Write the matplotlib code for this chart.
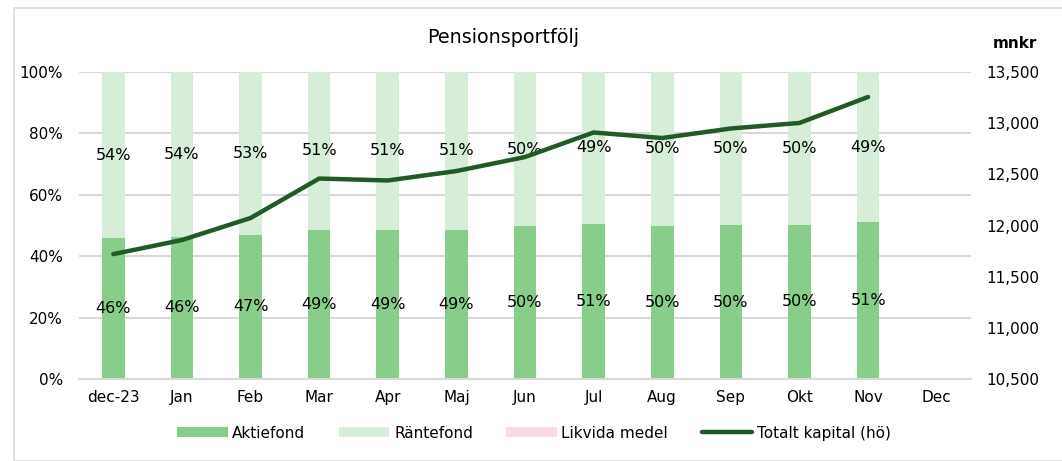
import matplotlib.pyplot as plt
from matplotlib.patches import Rectangle

months = ['dec-23', 'Jan', 'Feb', 'Mar', 'Apr', 'Maj', 'Jun', 'Jul', 'Aug', 'Sep', 'Okt', 'Nov', 'Dec']
aktie = [0.459, 0.463, 0.470, 0.486, 0.486, 0.486, 0.498, 0.506, 0.499, 0.501, 0.503, 0.510]
rante = [0.541, 0.537, 0.530, 0.514, 0.514, 0.514, 0.502, 0.494, 0.501, 0.499, 0.497, 0.490]
likvida = [0.0] * 12
totalt = [11720, 11858, 12073, 12459, 12440, 12532, 12669, 12909, 12855, 12948, 13002, 13256]

c_aktie = '#88CE8A'
c_rante = '#D6EED8'
c_likv = '#F9D9E5'
c_line = '#215A26'

plt.rcParams['font.family'] = 'DejaVu Sans'
fig = plt.figure(figsize=(10.62, 4.61), dpi=100)
fig.patches.append(Rectangle((14 / 1062, 0), 1.1, 1 - 8 / 461, transform=fig.transFigure,
                             fill=False, edgecolor='#D9D9D9', linewidth=1.2))
ax = fig.add_axes([79 / 1062, 1 - 379 / 461, 892 / 1062, 307 / 461])

x = list(range(len(aktie)))
w = 0.33
ax.bar(x, aktie, w, color=c_aktie, label='Aktiefond', zorder=2)
ax.bar(x, rante, w, bottom=aktie, color=c_rante, label='Räntefond', zorder=2)
bot2 = [a + r for a, r in zip(aktie, rante)]
ax.bar(x, likvida, w, bottom=bot2, color=c_likv, label='Likvida medel', zorder=2)

for i in x:
    ax.text(i, aktie[i] / 2, f'{aktie[i]:.0%}', ha='center', va='center', fontsize=11.5, zorder=5)
    ax.text(i, aktie[i] + rante[i] / 2, f'{rante[i]:.0%}', ha='center', va='center', fontsize=11.5, zorder=5)

ax.set_xlim(-0.5, len(months) - 0.5)
ax.set_ylim(0, 1)
ax.set_xticks(range(len(months)))
ax.set_xticklabels(months, fontsize=11)
ax.set_yticks([0, 0.2, 0.4, 0.6, 0.8, 1.0])
ax.set_yticklabels(['0%', '20%', '40%', '60%', '80%', '100%'], fontsize=11)
ax.yaxis.grid(True, color='#D9D9D9', linewidth=1.5, zorder=0)
ax.set_axisbelow(True)
for s in ax.spines.values():
    s.set_visible(False)
ax.spines['bottom'].set_visible(True)
ax.spines['bottom'].set_color('#D9D9D9')
ax.spines['bottom'].set_linewidth(1.5)
ax.tick_params(axis='y', length=0, pad=11.5)
ax.tick_params(axis='x', length=0, pad=8)

ax2 = ax.twinx()
ax2.plot(x, totalt, color=c_line, linewidth=3.2, solid_capstyle='round', label='Totalt kapital (hö)', zorder=3)
ax2.set_ylim(10500, 13500)
ax2.set_yticks(range(10500, 13501, 500))
ax2.set_yticklabels([f'{v:,}' for v in range(10500, 13501, 500)], fontsize=11)
for s in ax2.spines.values():
    s.set_visible(False)
ax2.tick_params(length=0, pad=11)
ax.set_zorder(ax2.get_zorder() - 1)
ax.patch.set_visible(False)
ax2.patch.set_visible(False)

fig.text(503 / 1062, 1 - 43 / 461, 'Pensionsportfölj', ha='center', va='baseline', fontsize=13.8)
fig.text(1037 / 1062, 1 - 43 / 461, 'mnkr', ha='right', va='center', fontsize=11, fontweight='bold')

h1, l1 = ax.get_legend_handles_labels()
h2, l2 = ax2.get_legend_handles_labels()
fig.legend(h1 + h2, l1 + l2, loc='center', bbox_to_anchor=(534 / 1062, 1 - 433 / 461), ncol=4,
           frameon=False, fontsize=11, handlelength=3.3, handleheight=0.55, columnspacing=2.2,
           handletextpad=0.3)

fig.savefig('out.png', dpi=100)
